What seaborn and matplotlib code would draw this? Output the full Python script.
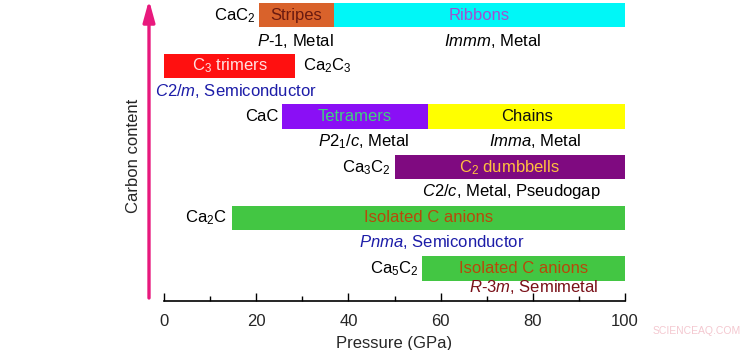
import matplotlib
matplotlib.use('Agg')
import matplotlib.pyplot as plt
import seaborn as sns

# phase segments: row index, start, end (GPa), label, bar colour, label colour
rows = [0, 0, 1, 2, 2, 3, 4, 5]
starts = [20.5, 36.8, 0, 25.5, 57.3, 50.0, 14.7, 56.0]
ends = [36.8, 100, 28.5, 57.3, 100, 100, 100, 100]
phase_names = ["Stripes", "Ribbons", "C$_3$ trimers", "Tetramers", "Chains",
               "C$_2$ dumbbells", "Isolated C anions", "Isolated C anions"]
bar_colors = ["#D9622B", "#00F7F7", "#FF1010", "#8A0FF5", "#FFFF00",
              "#7F0A80", "#43C643", "#43C643"]
name_colors = ["#6A1A10", "#A050D0", "#FFE0E0", "#40D080", "#111111",
               "#FFC040", "#B8480A", "#B8480A"]

# structure / property notes under each segment
notes = ["$\\mathit{P}$-1, Metal", "$\\mathit{Immm}$, Metal", "$\\mathit{C2/m}$, Semiconductor",
         "$\\mathit{P}2_1\\mathit{/c}$, Metal", "$\\mathit{Imma}$, Metal",
         "$\\mathit{C2/c}$, Metal, Pseudogap", "$\\mathit{Pnma}$, Semiconductor",
         "$\\mathit{R}$-$\\mathit{3m}$, Semimetal"]
note_x = [28.4, 71.2, 15.6, 43.2, 80.5, 75.3, 60.2, 80.3]
note_dy = [0.5, 0.5, 0.5, 0.49, 0.49, 0.48, 0.48, 0.37]
note_colors = ["black", "black", "#1C1CA8", "black", "black", "black", "#1C1CA8", "#7A1018"]

# compounds
compounds = ["CaC$_2$", "Ca$_2$C$_3$", "CaC", "Ca$_3$C$_2$", "Ca$_2$C", "Ca$_5$C$_2$"]
compound_x = [19.9, 30.2, 24.8, 49.1, 13.6, 55.2]
compound_ha = ["right", "left", "right", "right", "right", "right"]

sns.set_theme(style="white")
plt.rcParams['font.family'] = ['Liberation Sans', 'DejaVu Sans']
plt.rcParams['mathtext.fontset'] = 'custom'
plt.rcParams['mathtext.rm'] = 'Liberation Sans'
plt.rcParams['mathtext.it'] = 'Liberation Sans:italic'
plt.rcParams['mathtext.default'] = 'regular'

fig = plt.figure(figsize=(7.54, 3.5), dpi=100)
ax = fig.add_axes([164 / 754, 49 / 350, (625 - 164) / 754, 301 / 350])

fs = 12
h = 0.48
for r, s, e, nm, bc, nc in zip(rows, starts, ends, phase_names, bar_colors, name_colors):
    ax.barh(r, e - s, left=s, height=h, color=bc, edgecolor="none")
    ax.text((s + e) / 2, r, nm, ha="center", va="center", color=nc, fontsize=fs)

for r, x, dy, t, c in zip(rows, note_x, note_dy, notes, note_colors):
    ax.text(x, r + dy, t, ha="center", va="center", color=c, fontsize=fs)

for i, (c, x, ha) in enumerate(zip(compounds, compound_x, compound_ha)):
    ax.text(x, i, c, ha=ha, va="center", color="black", fontsize=fs)

ax.set_xlim(0, 100)
ax.set_ylim(5.64, -0.3)
ax.set_yticks([])
ax.set_xticks([0, 20, 40, 60, 80, 100])
ax.set_xticks([10, 30, 50, 70, 90], minor=True)
ax.tick_params(axis="x", which="major", direction="in", length=5.5, width=1,
               labelsize=fs, pad=9.5, bottom=True, color="black")
ax.tick_params(axis="x", which="minor", direction="in", length=3.5, width=1,
               bottom=True, color="black")
ax.set_xlabel("Pressure (GPa)", fontsize=fs, labelpad=5)
sns.despine(ax=ax, left=True)
ax.spines["bottom"].set_color("black")
ax.spines["bottom"].set_linewidth(1.2)

# carbon content arrow
fig.patches.append(matplotlib.patches.FancyArrowPatch(
    (149 / 754, 52 / 350), (149 / 754, 350 / 350), transform=fig.transFigure,
    arrowstyle="-|>,head_length=8,head_width=2.2", color="#E8197D", lw=2.4,
    mutation_scale=1.6, shrinkA=0, shrinkB=0))
fig.text(133 / 754, 1 - 156 / 350, "Carbon content", rotation=90,
         ha="center", va="center", fontsize=12)
fig.text(697 / 754, 1 - 331 / 350, "SCIENCEAQ.COM", ha="center", va="center",
         fontsize=7.5, color="#F4C8D0")

plt.savefig("out.png", dpi=100)
plt.close()
